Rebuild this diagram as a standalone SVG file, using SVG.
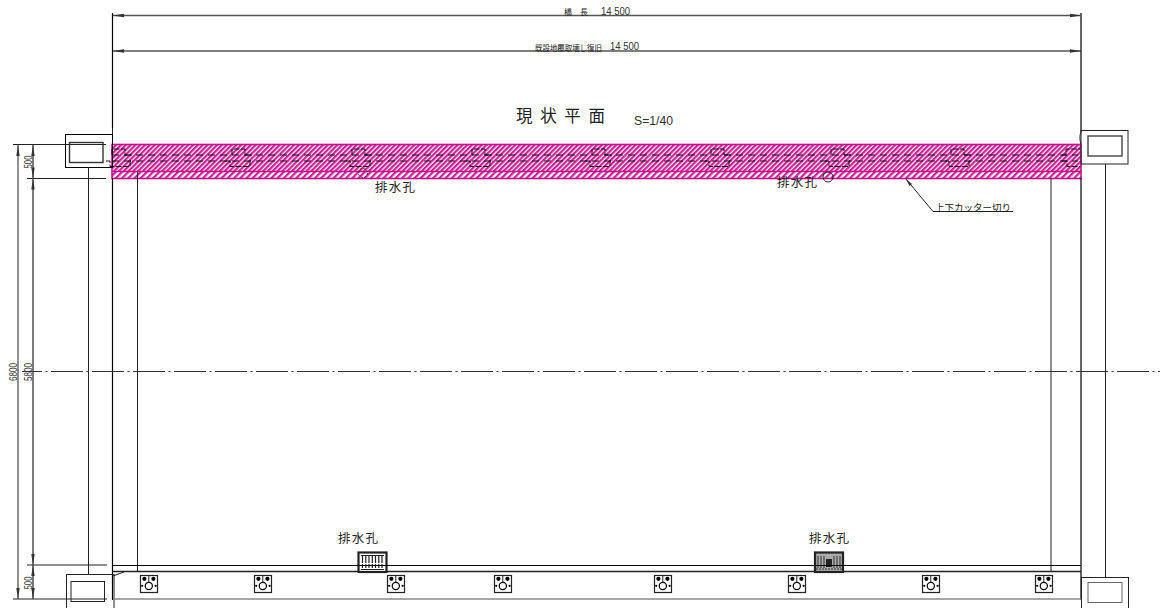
<svg xmlns="http://www.w3.org/2000/svg" xmlns:xlink="http://www.w3.org/1999/xlink" width="1160" height="608" viewBox="0 0 1160 608">
<style>
.l{fill:none;stroke:#222;stroke-width:1}
.k{fill:none;stroke:#000;stroke-width:1.2}
.g{fill:none;stroke:#666;stroke-width:1.4}
.t{font-family:"Noto Sans CJK JP","Liberation Sans",sans-serif;fill:#222}
.d{font-family:"Liberation Sans","Noto Sans CJK JP",sans-serif;fill:#333}
.a{fill:#333;stroke:none}
.dash{fill:none;stroke:#111;stroke-width:1;stroke-dasharray:7 5}
.bump{fill:none;stroke:#111;stroke-width:1;stroke-dasharray:6 1.500}
</style>
<defs>
<pattern id="hatch" width="3.4" height="3.4" patternUnits="userSpaceOnUse" patternTransform="rotate(-45)">
<rect width="3.4" height="3.4" fill="#fff"/>
<rect width="3.4" height="2.2" fill="#cf1f96"/>
</pattern>
<pattern id="hatch2" width="4.4" height="4.4" patternUnits="userSpaceOnUse" patternTransform="rotate(-45)">
<rect width="4.4" height="4.4" fill="#fff"/>
<rect width="4.4" height="2.2" fill="#cf1f96"/>
</pattern>
<g id="bump"><path class="bump" d="M-7 0V-6H6V0H13M-13 6H-9V11.500H11V6H14"/></g>
<g id="bolt">
<rect x="0.5" y="0.5" width="17" height="17" fill="#fff" stroke="#222" stroke-width="1.2"/>
<circle cx="8.800" cy="11" r="3.600" fill="#fff" stroke="#000" stroke-width="1.200"/>
<path d="M8.800 7.300V1" stroke="#222" fill="none" stroke-width="1"/>
<circle cx="4.400" cy="3.800" r="2.100" fill="#000"/><circle cx="13.400" cy="3.800" r="2.100" fill="#000"/>
<circle cx="2.200" cy="10.800" r="1.100" fill="#000"/><circle cx="15.600" cy="10.800" r="1.100" fill="#000"/>
</g>
</defs>
<rect width="1160" height="608" fill="#fff"/>
<g id="band">
<rect x="112" y="144.500" width="969" height="27" fill="url(#hatch)"/>
<rect x="112" y="171.500" width="969" height="7" fill="url(#hatch2)"/>
<rect x="112" y="144.500" width="969" height="34" fill="none" stroke="#c8108c" stroke-width="1.600"/>
<path d="M112 171.500H1081" stroke="#c8108c" stroke-width="1.400"/>
<path class="dash" d="M112 155H1078M112 161H1078"/>
<use xlink:href="#bump" href="#bump" x="119" y="155"/>
<use xlink:href="#bump" href="#bump" x="239" y="155"/>
<use xlink:href="#bump" href="#bump" x="359" y="155"/>
<use xlink:href="#bump" href="#bump" x="479" y="155"/>
<use xlink:href="#bump" href="#bump" x="599" y="155"/>
<use xlink:href="#bump" href="#bump" x="718" y="155"/>
<use xlink:href="#bump" href="#bump" x="838" y="155"/>
<use xlink:href="#bump" href="#bump" x="958" y="155"/>
<path class="bump" d="M1062 161H1067V166.500H1080M1062 155H1066V149H1080"/>
<circle cx="363" cy="173" r="4.500" fill="none" stroke="#222" stroke-width=".9" stroke-dasharray="2 1.500"/>
</g>
<g id="structure">
<path class="k" d="M112.500 13V128M112.500 178V600"/>
<path class="k" d="M1081 13V132M1081 178V600"/>
<path class="l" d="M112.500 128V144"/>
<path class="l" d="M1081 132C1079.500 135 1079.500 140 1081 144"/>
<rect x="65.500" y="134.500" width="47" height="33" class="l" style="stroke:#000"/>
<rect x="69.500" y="142.500" width="33.500" height="20" class="g" style="stroke:#333"/>
<path class="l" d="M88.500 167V574"/>
<path class="l" d="M137.500 172V572"/>
<rect x="66.500" y="574.500" width="47.500" height="36" class="l"/>
<rect x="71" y="581.500" width="33.500" height="20" class="l"/>
<rect x="1081" y="130.500" width="47" height="33.500" class="l"/>
<rect x="1088" y="136" width="34" height="20" class="g" style="stroke:#444"/>
<path class="l" d="M1105.500 164V577"/>
<path class="l" d="M1051 178V572"/>
<rect x="1081.500" y="577.500" width="47" height="33" class="l"/>
<rect x="1088" y="582.500" width="34" height="20" class="g" style="stroke-width:1"/>
<path class="k" d="M113 565.500H1081"/>
<path class="g" d="M113 571.500H1081" style="stroke:#222"/>
<path class="g" d="M114 599H1081" style="stroke:#888;stroke-width:1.500"/>
<path class="l" d="M113 576L124 572"/>
</g>
<g id="drains">
<rect x="358.500" y="552.500" width="28" height="19.500" fill="#fff" stroke="#222" stroke-width="2.200"/>
<g fill="none" stroke="#222" stroke-width="1.200">
<path d="M361 555.500H384M361 569.500H384"/>
<path d="M362.500 556V568M365.800 556V568M369 556V568M372.300 556V568M375.500 556V568M378.800 556V568M382 556V568" stroke-dasharray="7 1"/>
</g>
<path d="M358 565.500H387" stroke="#000" stroke-width="1"/>
<rect x="815" y="552.500" width="28" height="19.500" fill="#aaa" stroke="#222" stroke-width="2.200"/>
<g stroke="#333" stroke-width="1" fill="none">
<path d="M818 556V568M821 556V568M824 556V568M834 556V568M837 556V568M840 556V568"/>
<path d="M816 569H842" stroke-dasharray="2 1"/>
</g>
<rect x="826" y="559" width="6" height="8" fill="#222"/>
<path d="M815 565.500H843" stroke="#000" stroke-width="1"/>
</g>
<g id="bolts">
<use xlink:href="#bolt" href="#bolt" x="140" y="575"/>
<use xlink:href="#bolt" href="#bolt" x="254" y="575"/>
<use xlink:href="#bolt" href="#bolt" x="387" y="575"/>
<use xlink:href="#bolt" href="#bolt" x="494" y="575"/>
<use xlink:href="#bolt" href="#bolt" x="654" y="575"/>
<use xlink:href="#bolt" href="#bolt" x="788" y="575"/>
<use xlink:href="#bolt" href="#bolt" x="922" y="575"/>
<use xlink:href="#bolt" href="#bolt" x="1035" y="575"/>
</g>
<g id="centerline">
<path d="M22 371.500H1160" fill="none" stroke="#333" stroke-width="1" stroke-dasharray="32 3.500 2 3.500" stroke-dashoffset="12"/>
</g>
<g id="dimensions">
<path class="g" d="M113 15.500H1081" style="stroke:#555"/>
<path class="k" d="M113 51H1081"/>
<path class="a" d="M113 15.500L124 13.800V17.200ZM1081 15.500L1070 13.800V17.200ZM113 51L124 49.300V52.700ZM1081 51L1070 49.300V52.700Z"/>
<path class="l" d="M13 144.500H106M27 178.500H106M27 565H107M13 599H107"/>
<path class="l" d="M18 145V599"/>
<path class="g" d="M33 145V599" style="stroke:#444"/>
<path class="a" d="M18 145L16.300 156H19.700ZM18 599L16.300 588H19.700ZM33 145L31.300 156H34.700ZM33 178.500L31.300 167.500H34.700ZM33 178.500L31.300 189.500H34.700ZM33 565L31.300 554H34.700ZM33 565L31.300 576H34.700ZM33 599L31.300 588H34.700Z"/>
<path class="l" d="M906 179L933 211.500H1013"/>
<path class="a" d="M906 179L909.500 186L912 184Z"/>
</g>
<g id="labels">
<text class="t" x="564" y="15" font-size="8" textLength="24" lengthAdjust="spacing">橋 長</text>
<text class="d" x="601" y="14.500" font-size="10" textLength="29" lengthAdjust="spacingAndGlyphs">14 500</text>
<text class="t" x="535" y="50.500" font-size="8.500" textLength="67" lengthAdjust="spacingAndGlyphs">既設地覆取壊し復旧</text>
<text class="d" x="610" y="50" font-size="10" textLength="29" lengthAdjust="spacingAndGlyphs">14 500</text>
<text class="t" x="516" y="122" font-size="16.500" textLength="89" lengthAdjust="spacing">現状平面</text>
<text class="d" x="634" y="125" font-size="13.500" textLength="39" lengthAdjust="spacingAndGlyphs">S=1/40</text>
<text class="t" x="375" y="192" font-size="12.500" textLength="40" lengthAdjust="spacing">排水孔</text>
<text class="t" x="777" y="187" font-size="12.500" textLength="40" lengthAdjust="spacing">排水孔</text>
<text class="t" x="338" y="543" font-size="12.500" textLength="40" lengthAdjust="spacing">排水孔</text>
<text class="t" x="809" y="543" font-size="12.500" textLength="40" lengthAdjust="spacing">排水孔</text>
<text class="t" x="935" y="211" font-size="9.500" textLength="76" lengthAdjust="spacingAndGlyphs">上下カッター切り</text>
<text class="d" transform="translate(32 162) rotate(-90)" font-size="11" text-anchor="middle" textLength="13" lengthAdjust="spacingAndGlyphs">500</text>
<text class="d" transform="translate(32 583) rotate(-90)" font-size="11" text-anchor="middle" textLength="13" lengthAdjust="spacingAndGlyphs">500</text>
<text class="d" transform="translate(17 372) rotate(-90)" font-size="11" text-anchor="middle" textLength="18" lengthAdjust="spacingAndGlyphs">6800</text>
<text class="d" transform="translate(32 372) rotate(-90)" font-size="11" text-anchor="middle" textLength="18" lengthAdjust="spacingAndGlyphs">5800</text>
<circle cx="828" cy="177" r="5" fill="none" stroke="#222" stroke-width="1"/>
</g>
</svg>
